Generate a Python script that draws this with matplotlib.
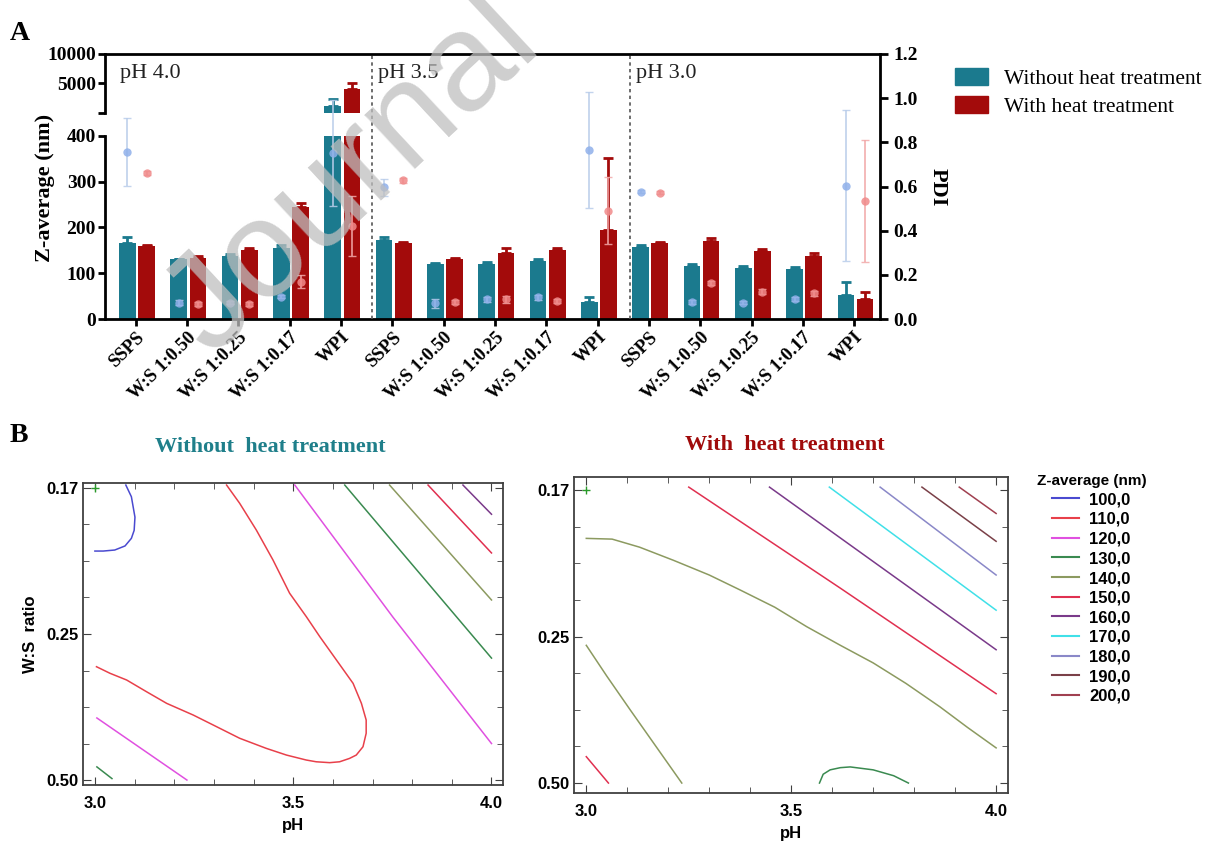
import numpy as np
import matplotlib.pyplot as plt
from matplotlib.patches import Patch
from matplotlib.lines import Line2D

# ---- panel A data ----
groups = ['SSPS', 'W:S 1:0.50', 'W:S 1:0.25', 'W:S 1:0.17', 'WPI'] * 3
ph_labels = ['pH 4.0', 'pH 3.5', 'pH 3.0']

z_no = [166, 130, 138.5, 155, 1150, 172, 120, 119, 127, 37, 157, 116, 112, 110, 51.5]
z_no_err = [12, 1.5, 2.5, 6, 1130, 7, 3, 6, 4, 11.5, 4, 3, 3, 4, 29.5]
z_heat = [159, 134, 150, 244, 4000, 166, 130, 144, 150, 195, 166, 170, 148, 138, 43.5]
z_heat_err = [2, 4, 4, 9, 1010, 2, 3, 10, 6, 156, 2, 6, 4, 5, 16.5]

pdi_no = [0.756, 0.074, 0.074, 0.101, 0.753, 0.596, 0.071, 0.089, 0.098, 0.765,
          0.577, 0.078, 0.074, 0.091, 0.604]
pdi_no_err = [0.155, 0.012, 0.008, 0.008, 0.24, 0.037, 0.02, 0.01, 0.01, 0.263,
              0.005, 0.01, 0.008, 0.008, 0.343]
pdi_heat = [0.661, 0.068, 0.068, 0.169, 0.421, 0.628, 0.076, 0.089, 0.081, 0.49,
            0.572, 0.162, 0.124, 0.116, 0.534]
pdi_heat_err = [0.01, 0.01, 0.008, 0.03, 0.137, 0.01, 0.01, 0.015, 0.008, 0.152,
                0.008, 0.01, 0.01, 0.01, 0.276]

# ---- panel B data (contour lines, y in coded units: 1 = 0.17, 0 = 0.25, -1 = 0.50) ----
levels = [100, 110, 120, 130, 140, 150, 160, 170, 180, 190, 200]
level_colors = ['#4a4ad0', '#e8404a', '#e050e0', '#3a8a50', '#8c9a60', '#e03050',
                '#7a3a8a', '#40e0e8', '#8a88c8', '#7a4048', '#a04050']

left_lines = [
    (100, [3.078, 3.092, 3.101, 3.099, 3.092, 3.076, 3.050, 3.021, 3.0],
          [1.02, 0.94, 0.80, 0.71, 0.655, 0.603, 0.575, 0.568, 0.568]),
    (110, [3.332, 3.365, 3.407, 3.449, 3.491, 3.533, 3.567, 3.609, 3.651, 3.672, 3.684, 3.684,
           3.676, 3.659, 3.642, 3.617, 3.592, 3.558, 3.533, 3.483, 3.432, 3.365, 3.307, 3.248,
           3.181, 3.130, 3.080, 3.038, 3.004],
          [1.02, 0.895, 0.712, 0.507, 0.279, 0.119, -0.018, -0.178, -0.338, -0.475, -0.589, -0.680,
           -0.772, -0.829, -0.852, -0.875, -0.881, -0.875, -0.863, -0.829, -0.783, -0.714, -0.635, -0.555,
           -0.475, -0.395, -0.315, -0.269, -0.224]),
    (120, [3.005, 3.232], [-0.575, -1.0]),
    (120, [3.504, 3.751, 4.0], [1.02, 0.117, -0.75]),
    (130, [3.005, 3.043], [-0.91, -0.99]),
    (130, [3.63, 4.0], [1.02, -0.165]),
    (140, [3.743, 4.0], [1.02, 0.233]),
    (150, [3.84, 4.0], [1.02, 0.555]),
    (160, [3.928, 4.0], [1.02, 0.82]),
]
right_lines = [
    (140, [3.0, 3.063, 3.13, 3.213, 3.30, 3.376, 3.46, 3.538, 3.62, 3.70, 3.78, 3.863, 3.93, 4.0],
          [0.67, 0.665, 0.61, 0.52, 0.42, 0.317, 0.20, 0.067, -0.06, -0.18, -0.32, -0.48, -0.62, -0.76]),
    (140, [3.0, 3.05, 3.107, 3.17, 3.233], [-0.06, -0.27, -0.50, -0.75, -1.0]),
    (150, [3.0, 3.054], [-0.82, -1.0]),
    (130, [3.569, 3.578, 3.595, 3.62, 3.644, 3.70, 3.75, 3.786],
          [-1.0, -0.94, -0.91, -0.895, -0.89, -0.91, -0.95, -1.0]),
    (150, [3.25, 3.62, 4.0], [1.02, 0.33, -0.39]),
    (160, [3.447, 4.0], [1.02, -0.09]),
    (170, [3.593, 4.0], [1.02, 0.18]),
    (180, [3.717, 4.0], [1.02, 0.42]),
    (190, [3.819, 4.0], [1.02, 0.65]),
    (200, [3.91, 4.0], [1.02, 0.84]),
]

c_blue = '#1b7a8e'
c_red = '#a30b0b'
c_pblue = '#8fb0ea'
c_pred = '#f08a8a'

W, H = 1213, 843
fig = plt.figure(figsize=(W / 100, H / 100), dpi=100)


def box(x0, y0, x1, y1):
    return [x0 / W, 1 - y1 / H, (x1 - x0) / W, (y1 - y0) / H]


serif = 'Liberation Serif'
sans = 'Liberation Sans'
x = np.arange(len(groups))
xb = x - 0.165
xr = x + 0.21
bw = 0.325
xlim = (-0.6, 14.5)

ax_low = fig.add_axes(box(105, 135.7, 880, 319))
ax_up = fig.add_axes(box(105, 54, 880, 112.7))
ax_pdi = fig.add_axes(box(105, 54, 880, 319))

# lower segment
ax_low.bar(xb, z_no, bw, color=c_blue)
ax_low.bar(xr, z_heat, bw, color=c_red)
ax_low.errorbar(xb, z_no, yerr=[np.zeros(len(x)), z_no_err], fmt='none', ecolor=c_blue,
                capsize=3.5, elinewidth=2, capthick=2)
ax_low.errorbar(xr, z_heat, yerr=[np.zeros(len(x)), z_heat_err], fmt='none', ecolor=c_red,
                capsize=3.5, elinewidth=2, capthick=2)
ax_low.set_xlim(xlim)
ax_low.set_ylim(0, 400)
ax_low.set_yticks([0, 100, 200, 300, 400])
ax_low.set_xticks(x)
ax_low.set_xticklabels(groups, rotation=45, ha='right', rotation_mode='anchor',
                       family=serif, weight='bold', fontsize=13.5)
for lab in ax_low.get_yticklabels():
    lab.set_family(serif)
    lab.set_weight('bold')
    lab.set_fontsize(14)
ax_low.spines['top'].set_visible(False)
ax_low.spines['right'].set_visible(False)
ax_low.spines['left'].set_linewidth(2)
ax_low.spines['bottom'].set_linewidth(2)
ax_low.tick_params(axis='y', width=2, length=5, pad=1.5)
ax_low.tick_params(axis='x', width=2, length=5, pad=2)
ax_low.patch.set_visible(False)

# upper segment, only bars above the break
big = [i for i in range(len(x)) if z_no[i] > 400 or z_heat[i] > 400]
ax_up.bar(xb[big], [z_no[i] for i in big], bw, color=c_blue)
ax_up.bar(xr[big], [z_heat[i] for i in big], bw, color=c_red)
ax_up.errorbar(xb[big], [z_no[i] for i in big], yerr=[[0] * len(big), [z_no_err[i] for i in big]],
               fmt='none', ecolor=c_blue, capsize=3.5, elinewidth=2, capthick=2)
ax_up.errorbar(xr[big], [z_heat[i] for i in big], yerr=[[0] * len(big), [z_heat_err[i] for i in big]],
               fmt='none', ecolor=c_red, capsize=3.5, elinewidth=2, capthick=2)
ax_up.set_xlim(xlim)
ax_up.set_ylim(0, 10000)
ax_up.set_yticks([0, 5000, 10000])
ax_up.set_yticklabels(['', '5000', '10000'], family=serif, weight='bold', fontsize=14)
ax_up.set_xticks([])
for s in ['top', 'right', 'bottom']:
    ax_up.spines[s].set_visible(False)
ax_up.spines['left'].set_linewidth(2)
ax_up.tick_params(axis='y', width=2, length=5, pad=1.5)
ax_up.patch.set_visible(False)

# PDI axis over the whole height
ax_pdi.errorbar(xb, pdi_no, yerr=pdi_no_err, fmt='o', ms=6, color=c_pblue, mec='none', alpha=0.85,
                ecolor='#b9cdea', elinewidth=1.3, capsize=3)
ax_pdi.errorbar(xr, pdi_heat, yerr=pdi_heat_err, fmt='o', ms=6, color=c_pred, mec='none', alpha=0.85,
                ecolor='#f2a8a8', elinewidth=1.3, capsize=3)
for sep in [4.6, 9.62]:
    ax_pdi.axvline(sep, ls=(0, (2, 2)), color='#555555', lw=1.2)
for xp, t in zip([-0.31, 4.72, 9.75], ph_labels):
    ax_pdi.text(xp, 1.11, t, family=serif, fontsize=16, va='center', ha='left', color='#222222')
ax_pdi.set_xlim(xlim)
ax_pdi.set_ylim(0, 1.2)
ax_pdi.set_xticks([])
ax_pdi.yaxis.tick_right()
ax_pdi.set_yticks([0, 0.2, 0.4, 0.6, 0.8, 1.0, 1.2])
ax_pdi.set_yticklabels(['0.0', '0.2', '0.4', '0.6', '0.8', '1.0', '1.2'],
                       family=serif, weight='bold', fontsize=14)
ax_pdi.spines['left'].set_visible(False)
ax_pdi.spines['bottom'].set_visible(False)
ax_pdi.spines['top'].set_linewidth(2)
ax_pdi.spines['right'].set_linewidth(2)
ax_pdi.tick_params(axis='y', width=2, length=6)
ax_pdi.patch.set_visible(False)

fig.text(45 / W, 1 - 188 / H, 'Z-average (nm)', rotation=90, ha='center', va='center',
         family=serif, weight='bold', fontsize=16)
fig.text(938 / W, 1 - 187 / H, 'PDI', rotation=270, ha='center', va='center',
         family=serif, weight='bold', fontsize=16)
fig.legend(handles=[Patch(color=c_blue, label='Without heat treatment'),
                    Patch(color=c_red, label='With heat treatment')],
           loc='upper left', bbox_to_anchor=(940 / W, 1 - 53 / H), frameon=False,
           prop={'family': serif, 'size': 15.5}, handlelength=1.55, handleheight=0.85,
           handletextpad=0.7, labelspacing=0.33, borderpad=0.2)

fig.text(10 / W, 1 - 40 / H, 'A', family=serif, weight='bold', fontsize=20)
fig.text(10 / W, 1 - 442 / H, 'B', family=serif, weight='bold', fontsize=20)

# ---- panel B ----
axL = fig.add_axes(box(83, 483, 503, 785))
axR = fig.add_axes(box(574, 477, 1008, 793))
col = dict(zip(levels, level_colors))
for ax, lines, yl in [(axL, left_lines, (-1.034, 1.034)), (axR, right_lines, (-1.068, 1.089))]:
    for lvl, px, py in lines:
        ax.plot(px, py, color=col[lvl], lw=1.1)
    ax.plot([3.0], [1.0], marker='+', color='#2a9a2a', ms=6, mew=1)
    ax.set_xlim(2.97, 4.029)
    ax.set_ylim(yl)
    ax.set_xticks([3.0, 3.5, 4.0])
    ax.set_xticks(np.arange(3.0, 4.01, 0.1), minor=True)
    ax.set_yticks([-1, 0, 1])
    ax.set_yticks([-0.75, -0.5, -0.25, 0.25, 0.5, 0.75], minor=True)
    ax.set_yticklabels(['0.50', '0.25', '0.17'])
    ax.set_xticklabels(['3.0', '3.5', '4.0'])
    ax.tick_params(which='both', direction='in', top=True, right=True, color='#404040')
    ax.tick_params(which='major', length=6, labelsize=12)
    ax.tick_params(axis='x', which='major', pad=8)
    ax.tick_params(which='minor', length=4)
    for lab in ax.get_xticklabels() + ax.get_yticklabels():
        lab.set_family(sans)
        lab.set_weight('bold')
    for s in ax.spines.values():
        s.set_color('#404040')
        s.set_linewidth(1.3)
    ax.set_xlabel('pH', family=sans, weight='bold', fontsize=12, labelpad=5)
axL.set_ylabel('W:S  ratio', family=sans, weight='bold', fontsize=12, labelpad=6)

fig.text(270 / W, 1 - 447 / H, 'Without  heat treatment', ha='center', va='center',
         family=serif, weight='bold', fontsize=16, color='#1f7f8a')
fig.text(785 / W, 1 - 445 / H, 'With  heat treatment', ha='center', va='center',
         family=serif, weight='bold', fontsize=16, color='#a00a0a')

handles = [Line2D([], [], color=c, lw=1.5, label=('%.1f' % lv).replace('.', ','))
           for lv, c in zip(levels, level_colors)]
leg = fig.legend(handles=handles, title='Z-average (nm)', loc='upper left',
                 bbox_to_anchor=(1025 / W, 1 - 462 / H), frameon=False,
                 prop={'family': sans, 'weight': 'bold', 'size': 12},
                 title_fontproperties={'family': sans, 'weight': 'bold', 'size': 11},
                 labelspacing=0.28, handlelength=1.6, handletextpad=0.6, borderpad=0.2)

# watermark
fig.text(211 / W, 1 - 357 / H, 'Journal', rotation=43, rotation_mode='anchor',
         ha='left', va='baseline', family=sans, fontsize=100, color='#bfbfbf', alpha=0.75, zorder=10)

fig.savefig('out.png', dpi=100)
